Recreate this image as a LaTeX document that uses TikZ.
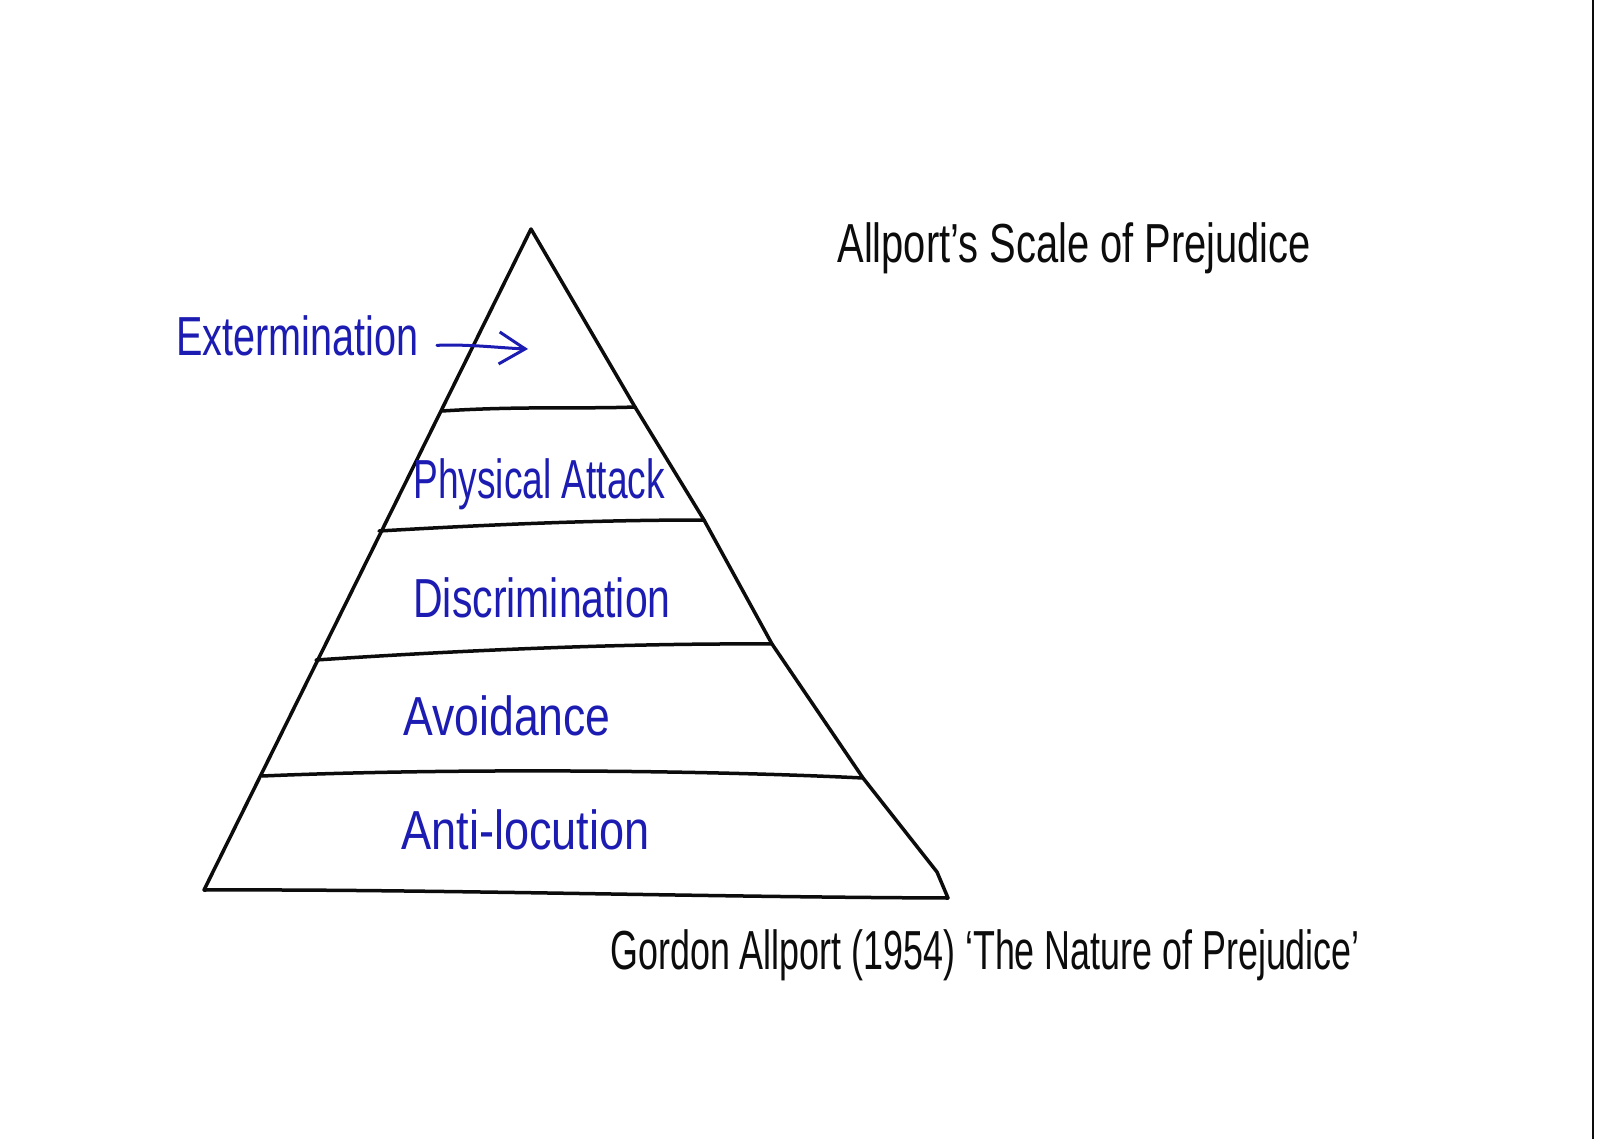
\documentclass[tikz,border=0pt]{standalone}
\usepackage{fontspec}
\setmainfont{Liberation Sans}
\usetikzlibrary{arrows.meta}
\definecolor{bluepen}{RGB}{28,28,178}
\definecolor{ink}{RGB}{12,12,12}
\newcommand{\hwx}[2]{\scalebox{#1}[1]{#2}}
\begin{document}
\begin{tikzpicture}[x=0.5pt,y=-0.5pt,
  inkline/.style={draw=ink,line width=1.75pt,line cap=round,line join=round},
  bluelabel/.style={anchor=base west,inner sep=0pt,text=bluepen,font=\fontsize{27.5}{33}\selectfont},
  blacklabel/.style={anchor=base west,inner sep=0pt,text=ink,font=\fontsize{27.5}{33}\selectfont},
  pointer/.style={draw=bluepen,line width=1.5pt,line cap=round,-{Straight Barb[length=13pt,width=16pt,line width=1.5pt]}}]
\fill[white] (0,0) rectangle (1600,1139);
\useasboundingbox (0,0) rectangle (1600,1139);

% page edge on the right
\draw[ink,line width=1.4pt] (1593,0) -- (1593,1139);

% pyramid outline
\coordinate (apex) at (531,229);
\coordinate (bl) at (204,890);
\coordinate (br) at (948,898);
\draw[inkline] (bl) -- (apex) -- (635,407) -- (704,520) -- (772,644) -- (863,778) -- (937,872) -- (br);
\draw[inkline] (bl) .. controls (420,889) and (700,897) .. (br);

% dividers
\draw[inkline] (442,411) .. controls (520,406) and (580,409) .. (635,407);
\draw[inkline] (379,531) .. controls (500,524) and (600,520) .. (704,520);
\draw[inkline] (316,660) .. controls (450,651) and (620,643) .. (772,644);
\draw[inkline] (262,776) .. controls (450,768) and (700,770) .. (863,778);

% level labels
\node[bluelabel] (ext) at (176,355) {\hwx{0.72}{Extermination}};
\coordinate (exttip) at (528,349);
\draw[pointer] ([xshift=9pt,yshift=-5pt]ext.east) .. controls (470,344) and (500,348) .. (exttip);
\node[bluelabel] (phys) at (413,498) {\hwx{0.675}{Physical Attack}};
\node[bluelabel] (disc) at (413,617) {\hwx{0.745}{Discrimination}};
\node[bluelabel] (avoid) at (403,735) {\hwx{0.81}{Avoidance}};
\node[bluelabel] (anti) at (401,849) {\hwx{0.82}{Anti-locution}};

% titles
\node[blacklabel] (title) at (837,263) {\hwx{0.725}{Allport’s Scale of Prejudice}};
\node[blacklabel] (cite) at (610,969) {\hwx{0.652}{Gordon Allport (1954) ‘The Nature of Prejudice’}};
\end{tikzpicture}
\end{document}
